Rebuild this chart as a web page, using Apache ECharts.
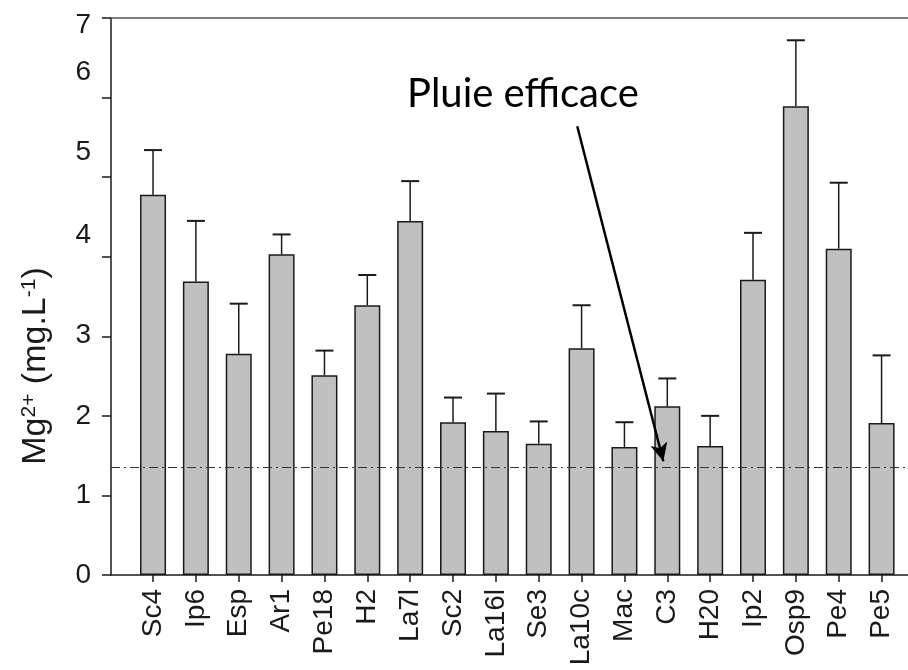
<!DOCTYPE html>
<html>
<head>
<meta charset="utf-8">
<script src="https://cdn.jsdelivr.net/npm/echarts@6/dist/echarts.min.js"></script>
<style>html,body{margin:0;padding:0;background:#fff}#c{width:908px;height:670px}</style>
</head>
<body>
<div id="c"></div>
<script>
const categories = ['Sc4','Ip6','Esp','Ar1','Pe18','H2','La7l','Sc2','La16l','Se3','La10c','Mac','C3','H20','Ip2','Osp9','Pe4','Pe5'];
const means  = [4.78,3.69,2.78,4.03,2.51,3.39,4.45,1.92,1.81,1.65,2.85,1.61,2.12,1.62,3.71,5.89,4.10,1.91];
const errors = [0.56,0.76,0.63,0.25,0.31,0.38,0.50,0.31,0.47,0.28,0.54,0.31,0.35,0.38,0.59,0.83,0.83,0.85];
const yTickValues = [0,1,2,3,4,5,6,7];
const threshold = 1.36;
const annotationText = 'Pluie efficace';

const FONT = 'Liberation Sans';
const INK = '#1a1a1a';

const chart = echarts.init(document.getElementById('c'), null, {renderer:'canvas'});

const errData = means.map((m, i) => [i, m, errors[i]]);

// label vertical shifts (as in the reference picture)
const labelShift = {7:-7, 6:25, 5:25, 4:21, 3:1, 2:0, 1:0, 0:0};
const rich = {};
yTickValues.forEach(v => {
  const s = labelShift[v] || 0;
  rich['t' + v] = {
    fontSize: 28, fontFamily: FONT, color: INK,
    padding: s >= 0 ? [0, 0, 2 * s, 0] : [-2 * s, 0, 0, 0]
  };
});

const TITLE_F = '34px "Liberation Sans"';
const SUP_F = '21px "Liberation Sans"';

chart.setOption({
  animation: false,
  backgroundColor: '#fff',
  grid: [
    {left: 111, right: 0, top: 18, bottom: 95},
    {left: 131.6, right: 5, top: 18, bottom: 95}
  ],
  xAxis: [
    {type: 'value', gridIndex: 0, min: 0, max: 1, position: 'bottom',
     axisLine: {show: true, onZero: false, lineStyle: {color: INK, width: 1.5}},
     axisTick: {show: false}, axisLabel: {show: false}, splitLine: {show: false}},
    {type: 'value', gridIndex: 0, min: 0, max: 1, position: 'top',
     axisLine: {show: true, onZero: false, lineStyle: {color: '#555', width: 1.5}},
     axisTick: {show: false}, axisLabel: {show: false}, splitLine: {show: false}},
    {type: 'category', gridIndex: 1, data: categories, position: 'bottom',
     axisLine: {show: false},
     axisTick: {show: true, alignWithLabel: true, length: 7, lineStyle: {color: INK, width: 1.5}},
     axisLabel: {rotate: 90, fontSize: 28, fontFamily: FONT, color: INK, margin: 14, interval: 0},
     splitLine: {show: false}}
  ],
  yAxis: [
    {type: 'value', gridIndex: 0, min: 0, max: 7, interval: 1,
     axisLine: {show: true, lineStyle: {color: INK, width: 1.5}},
     axisTick: {show: true, length: 9, lineStyle: {color: INK, width: 1.5}},
     axisLabel: {margin: 20, formatter: v => '{t' + v + '|' + v + '}', rich: rich},
     splitLine: {show: false}},
    {type: 'value', gridIndex: 1, min: 0, max: 7, interval: 1, show: false,
     splitLine: {show: false}}
  ],
  series: [
    {type: 'bar', xAxisIndex: 2, yAxisIndex: 1, data: means, barWidth: 26,
     itemStyle: {color: '#c0c0c0', borderColor: INK, borderWidth: 1.5}, z: 2},
    {type: 'custom', xAxisIndex: 2, yAxisIndex: 1, data: errData, z: 3,
     renderItem: (params, api) => {
       const i = api.value(0), m = api.value(1), e = api.value(2);
       const p0 = api.coord([i, m]);
       const p1 = api.coord([i, m + e]);
       const hw = 9;
       return {type: 'group', children: [
         {type: 'line', shape: {x1: p0[0], y1: p0[1], x2: p1[0], y2: p1[1]}, style: {stroke: INK, lineWidth: 1.5}},
         {type: 'line', shape: {x1: p1[0] - hw, y1: p1[1], x2: p1[0] + hw, y2: p1[1]}, style: {stroke: INK, lineWidth: 2}}
       ]};
     }},
    {type: 'line', xAxisIndex: 0, yAxisIndex: 0, data: [], z: 5,
     markLine: {silent: true, symbol: ['none', 'none'], label: {show: false},
       lineStyle: {color: '#333', width: 1.2, type: [9, 4, 2, 4]},
       data: [{yAxis: threshold}]}},
    {type: 'line', xAxisIndex: 0, yAxisIndex: 0, data: [], z: 6,
     markLine: {silent: true, symbol: ['none', 'arrow'], symbolSize: [13, 18], label: {show: false},
       lineStyle: {color: '#000', width: 2.5, type: 'solid'},
       data: [[{coord: [0.585, 5.64]}, {coord: [0.693, 1.43]}]]}}
  ],
  graphic: [
    {type: 'text', left: 407, top: 74, z: 10,
     style: {text: annotationText, font: '40px Lato', fill: '#000'}},
    {type: 'text', x: 36, y: 366, rotation: Math.PI / 2, z: 10,
     style: {text: '{n|Mg}{sup|2+}{n| (mg.L}{sup|-1}{n|)}', font: TITLE_F, fill: INK,
       align: 'center', verticalAlign: 'middle',
       rich: {
         n: {font: TITLE_F, fill: INK, verticalAlign: 'bottom'},
         sup: {font: SUP_F, fill: INK, verticalAlign: 'top'}
       }}}
  ]
});
</script>
</body>
</html>
